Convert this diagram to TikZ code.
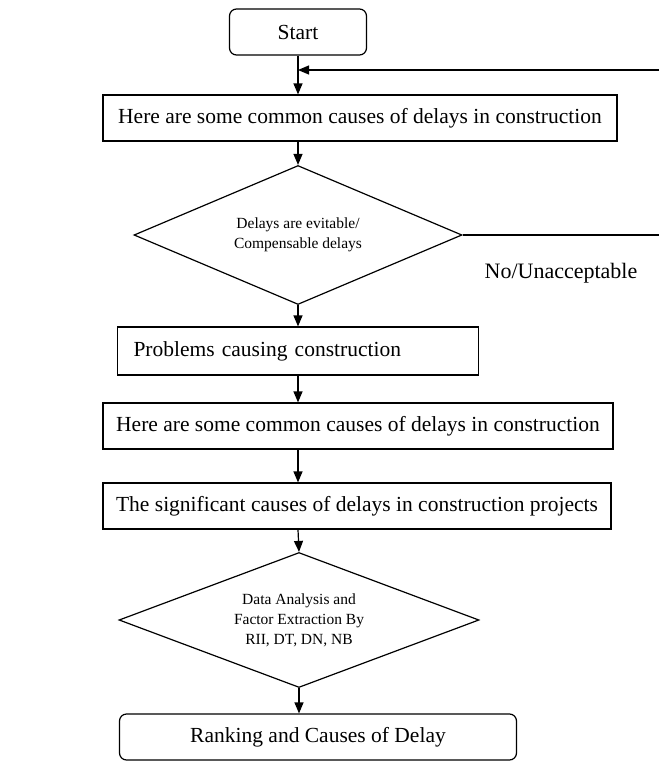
\documentclass[tikz,border=0pt]{standalone}
\usepackage{fontspec}
\setmainfont{Liberation Serif}
\usetikzlibrary{arrows.meta,shapes.geometric}
\tikzset{>={Triangle[length=11pt,width=9pt]}}
\tikzset{box/.style={draw,line width=1.2pt,inner sep=0pt,minimum height=46pt,font=\fontsize{21.5}{25}\selectfont},
  rbox/.style={box,rounded corners=7pt},
  decision/.style={draw,line width=1.2pt,diamond,aspect=2.6,inner sep=0pt,align=center,font=\fontsize{15.5}{20}\selectfont},
  flow/.style={line width=1.2pt}}

\begin{document}
\begin{tikzpicture}[x=1pt,y=-1pt]
\useasboundingbox (0,0) rectangle (659,763);
\node[rbox,minimum width=137pt] (start) at (298,32) {Start};
\node[box,minimum width=514pt] (cause1) at (360,118)
  {Here are some common causes of delays in construction};
\node[decision,minimum width=328pt,minimum height=139pt] (dec1) at (298,235)
  {Delays are evitable/\\Compensable delays};
\node[box,minimum height=48pt,text width=329pt,inner xsep=16pt,align=left] (prob) at (298,351)
  {Problems causing construction};
\node[box,minimum width=510pt] (cause2) at (358,426)
  {Here are some common causes of delays in construction};
\node[box,minimum width=508pt] (sig) at (357,506)
  {The significant causes of delays in construction projects};
\node[decision,minimum width=360pt,minimum height=135pt] (dec2) at (299,620)
  {Data Analysis and\\Factor Extraction By\\RII, DT, DN, NB};
\node[rbox,minimum width=397pt] (rank) at (318,737) {Ranking and Causes of Delay};
\node[font=\fontsize{22}{26}\selectfont] (no) at (561,273) {No/Unacceptable};
\coordinate (back) at (659,70);
\coordinate (noend) at (659,235);

\draw[flow,->] (start.south) -- (start.south |- cause1.north);
\draw[flow,->] (dec1.north |- cause1.south) -- (dec1.north);
\draw[flow,->] (dec1.south) -- (prob.south |- prob.north);
\draw[flow,->] (prob.south) -- (prob.south |- cause2.north);
\draw[flow,->] (prob.south |- cause2.south) -- (prob.south |- sig.north);
\draw[flow,->] (prob.south |- sig.south) -- (dec2.north);
\draw[flow,->] (dec2.south) -- (dec2.south |- rank.north);
\draw[flow] (dec1.east) -- (noend);
\draw[flow,->] (back) -- (back -| start.south);
\end{tikzpicture}
\end{document}
